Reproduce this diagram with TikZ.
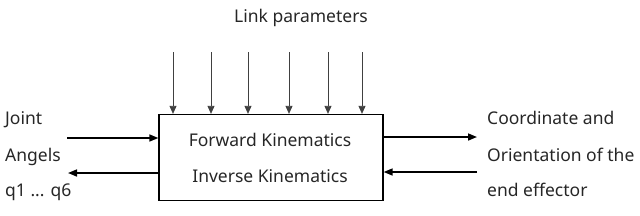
\documentclass[tikz,border=0pt]{standalone}
\usepackage{fontspec}
\setmainfont{Noto Sans}
\usetikzlibrary{arrows.meta}
\begin{document}
\begin{tikzpicture}[x=1pt,y=-1pt,
  lbl/.style={font=\fontsize{17.5}{19}\selectfont, inner sep=0pt, text=black!85},
  thin arrow/.style={draw=black!75, line width=0.8pt, -{Triangle[length=8pt,width=7pt]}},
  thick arrow/.style={draw=black, line width=1.6pt, -{Triangle[length=9pt,width=7pt]}}]
\useasboundingbox (0,0) rectangle (640,215);
\node[draw, line width=1.3pt, minimum width=224pt, minimum height=86pt, inner sep=0pt] (box) at (271,157.5) {};
\node[lbl] (fk) at (270,140) {Forward Kinematics};
\node[lbl] (ik) at (270,176) {Inverse Kinematics};
\node[lbl] (lp) at (301,18) {Link parameters};
\foreach \i/\x in {1/173,2/211,3/248,4/289,5/328,6/362}{
  \coordinate (t\i) at (\x,52);
  \draw[thin arrow] (t\i) -- (t\i |- box.north);
}
\node[lbl, anchor=west] (joint) at (5,120) {Joint};
\node[lbl, anchor=west] (angels) at (5,157) {Angels};
\node[lbl, anchor=west] (q) at (5,192) {q1 ... q6};
\coordinate (lin) at (67,138);
\coordinate (lout) at (68,173);
\draw[thick arrow] (lin) -- (lin -| box.west);
\draw[thick arrow] (lout -| box.west) -- (lout);
\node[lbl, anchor=west] (c1) at (487,118) {Coordinate and};
\node[lbl, anchor=west] (c2) at (487,155) {Orientation of the};
\node[lbl, anchor=west] (c3) at (487,190) {end effector};
\coordinate (rout) at (477,137);
\coordinate (rin) at (477,172);
\draw[thick arrow] (rout -| box.east) -- (rout);
\draw[thick arrow] (rin) -- (rin -| box.east);
\end{tikzpicture}
\end{document}
